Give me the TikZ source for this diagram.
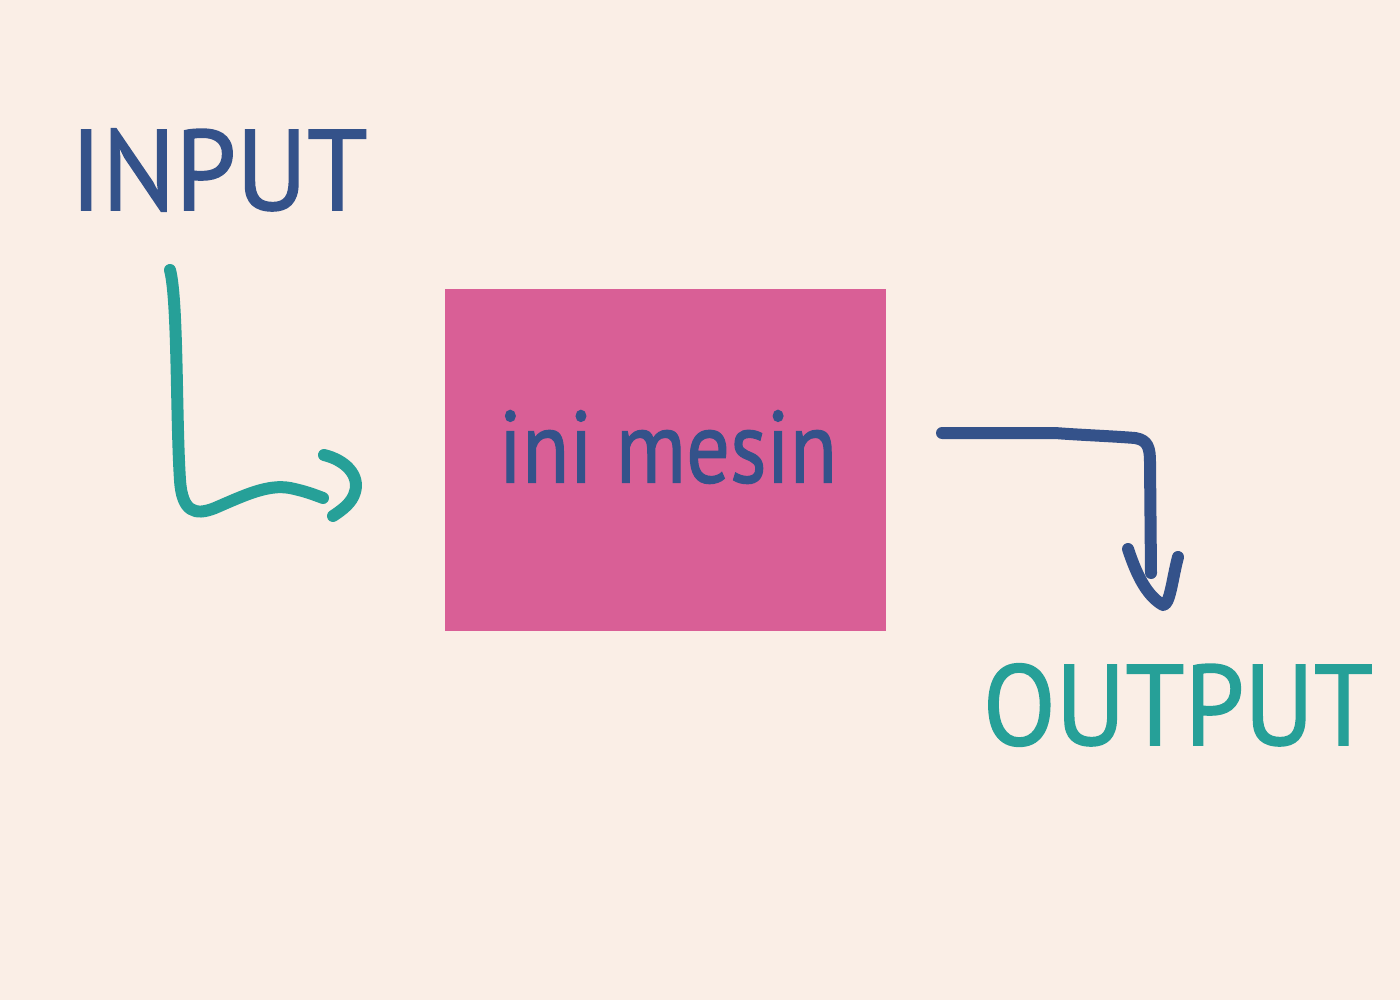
\documentclass[tikz,border=0pt]{standalone}
\usepackage{fontspec}
\setmainfont{PT Sans}
\newfontfamily\handfont{PT Sans}[FakeBold=1.3]
\definecolor{bg}{RGB}{250,238,230}
\definecolor{boxpink}{RGB}{217,95,150}
\definecolor{navy}{RGB}{52,82,138}
\definecolor{teal}{RGB}{38,160,152}
\begin{document}
\begin{tikzpicture}[x=0.02cm,y=-0.02cm,
  stroke/.style={line width=0.24cm,line cap=round,line join=round},
  lbl/.style={inner sep=0pt,anchor=center}]
\fill[bg] (0,0) rectangle (1400,1000);
\useasboundingbox (0,0) rectangle (1400,1000);
\node[fill=boxpink,minimum width=8.82cm,minimum height=6.84cm,inner sep=0pt] (box) at (665.5,460) {};
\node[lbl,text=navy,font=\handfont\fontsize{58}{58}\selectfont] (boxtxt) at (668,447) {\scalebox{0.85}[1]{ini mesin}};
\node[lbl,text=navy,font=\handfont\fontsize{62}{62}\selectfont] (input) at (219,170) {\scalebox{1}[1.05]{INPUT}};
\node[lbl,text=teal,font=\handfont\fontsize{62}{62}\selectfont] (output) at (1178,705) {\scalebox{0.98}[1.05]{OUTPUT}};
% input arrow
\coordinate (a0) at (170,270);
\coordinate (a1) at (323,498);
\draw[stroke,teal] (a0) .. controls (178,300) and (176,420) .. (180,480)
  .. controls (182,512) and (195,516) .. (215,508)
  .. controls (245,495) and (268,484) .. (290,488)
  .. controls (305,491) and (315,495) .. (a1);
\coordinate (h0) at (324,455);
\coordinate (h1) at (333,516);
\draw[stroke,teal] (h0) .. controls (345,460) and (360,475) .. (355,492)
  .. controls (352,503) and (342,510) .. (h1);
% output arrow
\coordinate (b0) at (942,433);
\coordinate (b1) at (1151,573);
\draw[stroke,navy] (b0) -- (1055,433) .. controls (1080,435) and (1110,436) .. (1135,438)
  .. controls (1148,440) and (1150,448) .. (1150,462) -- (b1);
\coordinate (g0) at (1128,549);
\coordinate (g1) at (1178,557);
\draw[stroke,navy] (g0) .. controls (1135,570) and (1145,595) .. (1163,605)
  .. controls (1170,605) and (1172,580) .. (g1);
\end{tikzpicture}
\end{document}
